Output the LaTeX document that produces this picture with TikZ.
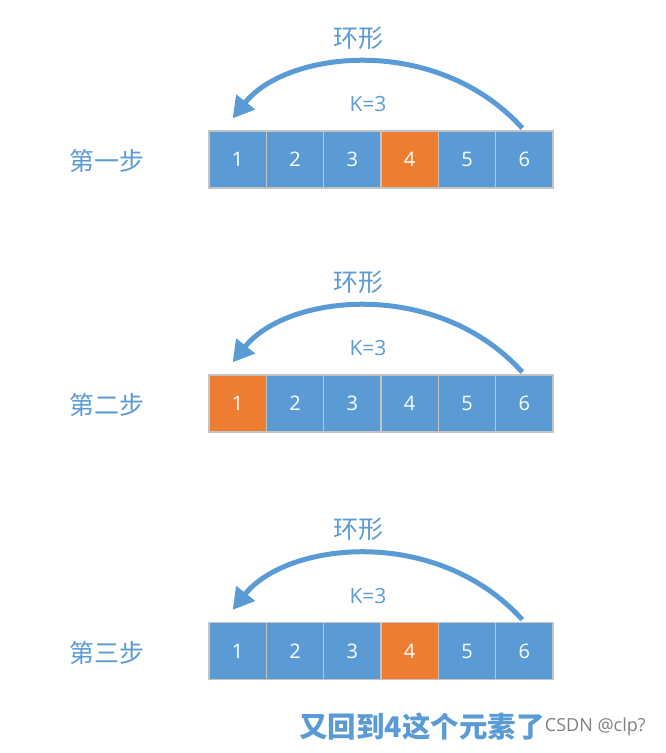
\documentclass[tikz,border=0pt]{standalone}
\usepackage{fontspec}
\setmainfont{Open Sans}
\newfontfamily\cjk{Noto Sans CJK SC}
\usetikzlibrary{arrows.meta}
\definecolor{Blue}{HTML}{5B9BD5}
\definecolor{Orange}{HTML}{ED7D31}
\definecolor{Edge}{HTML}{C4C4C4}

\tikzset{
  cell/.style={draw=Edge,line width=1.3pt,fill=Blue,text=white,
    minimum width=57.3pt,minimum height=57pt,inner sep=0pt,font=\fontsize{20}{20}\selectfont},
  hot/.style={cell,fill=Orange},
  steplabel/.style={text=Blue,font=\cjk\fontsize{25}{25}\selectfont},
  arc/.style={draw=Blue,line width=5pt,-{Triangle[length=21pt,width=23pt]},shorten <=3pt}
}

\begin{document}
\begin{tikzpicture}[x=1pt,y=-1pt]
  \useasboundingbox (0,0) rectangle (665,753);
  \foreach \r/\dy/\nm/\hl in {1/0/一/4,2/244/二/1,3/491.5/三/4}{
    \foreach \i in {1,...,6}{
      \ifnum\i=\hl
        \node[hot] (b\r-\i) at ({209+57.33*(\i-0.5)},159.5+\dy) {\i};
      \else
        \node[cell] (b\r-\i) at ({209+57.33*(\i-0.5)},159.5+\dy) {\i};
      \fi
    }
    \node[steplabel] (lab\r) at (107,161+\dy) {第\nm 步};
    \node[steplabel] (ring\r) at (358,38+\dy) {环形};
    \node[text=Blue,font=\fontsize{21}{21}\selectfont] (k\r) at (368,104+\dy) {K=3};
    \coordinate (tip\r) at ([shift={(-5,-12)}]b\r-1.north);
    \draw[arc] (b\r-6.north) .. controls +(-88,-97) and +(54,-68) .. (tip\r);
  }
  \node[anchor=west,inner sep=0pt,text=Blue,font=\cjk\bfseries\fontsize{28.5}{28.5}\selectfont]
    (note) at (299,727) {又回到4这个元素了};
  \node[anchor=west,inner sep=0pt,text=gray,font=\fontsize{18}{18}\selectfont]
    (mark) at (note.east) {CSDN @clp?};
\end{tikzpicture}
\end{document}
